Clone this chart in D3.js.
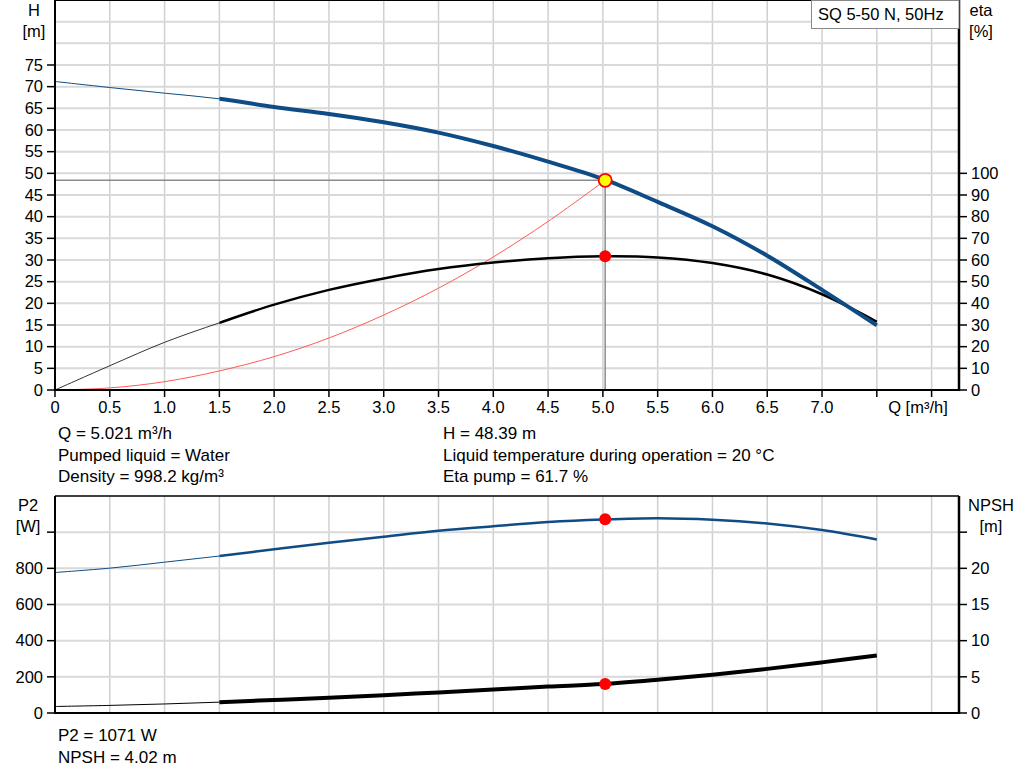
<!DOCTYPE html>
<html>
<head>
<meta charset="utf-8">
<script src="https://cdn.jsdelivr.net/npm/d3@7"></script>
<style>
  body { margin: 0; background: #fff; }
  svg { display: block; font-family: "Liberation Sans", Arial, sans-serif; }
</style>
</head>
<body>
<svg id="chart" width="1024" height="781"></svg>
<script>
// flow points (m3/h)
const flowQ = [0, 0.5, 1.0, 1.5, 2.0, 2.5, 3.0, 3.5, 4.0, 4.5, 5.0, 5.5, 6.0, 6.5, 7.0, 7.5];
const headH = [71.2, 69.8, 68.5, 67.2, 65.3, 63.7, 61.8, 59.4, 56.3, 52.7, 48.7, 43.4, 37.8, 31.0, 23.1, 14.9];
const etaPump = [0, 11.2, 22.0, 31.0, 39.4, 46.2, 51.5, 55.8, 58.8, 60.8, 61.7, 61.2, 58.6, 53.3, 44.2, 31.5];
const powerP2 = [777, 801, 834, 868, 905, 941, 975, 1008, 1033, 1056, 1070, 1077, 1069, 1048, 1012, 960];
const npshM = [0.9, 1.05, 1.25, 1.5, 1.8, 2.1, 2.45, 2.85, 3.25, 3.65, 4.0, 4.6, 5.3, 6.1, 7.0, 7.95];

// system curve (red) up to the duty point
const systemQ = [0, 0.5, 1.0, 1.5, 2.0, 2.5, 3.0, 3.5, 4.0, 4.5, 5.0, 5.021];
const systemH = [0, 0.48, 1.92, 4.4, 7.7, 12.0, 17.3, 23.5, 30.7, 38.9, 48.0, 48.39];

// duty point
const dutyQ = 5.021, dutyH = 48.39, dutyEta = 61.7, dutyP2 = 1071, dutyNpsh = 4.02;
const startThick = 3; // index where the bold part of each curve begins (Q = 1.5)

// ticks & labels
const xTicks = d3.range(0, 8.01, 0.5);
const xTickLabels = ["0", "0.5", "1.0", "1.5", "2.0", "2.5", "3.0", "3.5", "4.0", "4.5", "5.0", "5.5", "6.0", "6.5", "7.0", "", ""];
const hTicks = [0, 5, 10, 15, 20, 25, 30, 35, 40, 45, 50, 55, 60, 65, 70, 75];
const etaTicks = [0, 10, 20, 30, 40, 50, 60, 70, 80, 90, 100];
const p2Ticks = [0, 200, 400, 600, 800, 1000];
const p2Labels = ["0", "200", "400", "600", "800", ""];
const npshTicks = [0, 5, 10, 15, 20, 25];
const npshLabels = ["0", "5", "10", "15", "20", ""];
const infoLeft = ["Q = 5.021 m³/h", "Pumped liquid = Water", "Density = 998.2 kg/m³"];
const infoRight = ["H = 48.39 m", "Liquid temperature during operation = 20 °C", "Eta pump = 61.7 %"];
const infoBottom = ["P2 = 1071 W", "NPSH = 4.02 m"];
const title = "SQ 5-50 N, 50Hz";

const svg = d3.select("#chart");
const left = 55, right = 959;
const blue = "#0f4c85";
const gridColor = "#d9d9d9";

const x = d3.scaleLinear().domain([0, 8.25]).range([left, right]);
// top panel
const yH = d3.scaleLinear().domain([0, 90]).range([390, 0]);
const yEta = d3.scaleLinear().domain([0, 180]).range([390, 0]);
// bottom panel
const yP2 = d3.scaleLinear().domain([0, 1200]).range([713, 496]);
const yNpsh = d3.scaleLinear().domain([0, 30]).range([713, 496]);

function grid(yScale, yVals) {
  const g = svg.append("g");
  g.selectAll(".vg").data(xTicks.slice(1)).enter().append("line")
    .attr("x1", d => x(d)).attr("x2", d => x(d))
    .attr("y1", yScale.range()[0]).attr("y2", yScale.range()[1])
    .attr("stroke", "#d0d0d0").attr("stroke-width", 1.5);
  g.selectAll(".hg").data(yVals).enter().append("line")
    .attr("x1", left).attr("x2", right)
    .attr("y1", d => yScale(d)).attr("y2", d => yScale(d))
    .attr("stroke", gridColor).attr("stroke-width", 2);
}

grid(yH, d3.range(5, 90, 5));
grid(yP2, d3.range(200, 1200, 200));

const smooth = d3.line().curve(d3.curveCatmullRom.alpha(0.5));

// line helper: thin part then bold part
function curve(scaleY, xs, ys, color, thin, bold) {
  const pts = xs.map((q, i) => [x(q), scaleY(ys[i])]);
  const full = smooth(pts);
  // thin part up to Q=1.5, drawn with the full path clipped
  const id = "c" + Math.random().toString(36).slice(2);
  svg.append("clipPath").attr("id", id + "a").append("rect")
    .attr("x", 0).attr("y", 0).attr("width", x(xs[startThick])).attr("height", 781);
  svg.append("clipPath").attr("id", id + "b").append("rect")
    .attr("x", x(xs[startThick])).attr("y", 0).attr("width", 1024).attr("height", 781);
  svg.append("path").attr("d", full).attr("clip-path", `url(#${id}a)`)
    .attr("fill", "none").attr("stroke", color).attr("stroke-width", thin);
  svg.append("path").attr("d", full).attr("clip-path", `url(#${id}b)`)
    .attr("fill", "none").attr("stroke", color).attr("stroke-width", bold);
}

// duty point reference lines
svg.append("line")
  .attr("x1", left).attr("x2", x(dutyQ)).attr("y1", yH(dutyH)).attr("y2", yH(dutyH))
  .attr("stroke", "#8c8c8c").attr("stroke-width", 1.5);
svg.append("line")
  .attr("x1", x(dutyQ)).attr("x2", x(dutyQ)).attr("y1", yH(dutyH)).attr("y2", yH(0))
  .attr("stroke", "#8c8c8c").attr("stroke-width", 1.5);

// system curve
svg.append("path")
  .attr("d", smooth(systemQ.map((q, i) => [x(q), yH(systemH[i])])))
  .attr("fill", "none").attr("stroke", "#ff5a5a").attr("stroke-width", 1);

curve(yEta, flowQ, etaPump, "#000", 0.8, 2.5);
curve(yH, flowQ, headH, blue, 1, 4);
curve(yP2, flowQ, powerP2, blue, 1, 2.5);
curve(yNpsh, flowQ, npshM, "#000", 1, 4);

// frames / axes
function axisLine(x1, y1, x2, y2, w) {
  svg.append("line").attr("x1", x1).attr("y1", y1).attr("x2", x2).attr("y2", y2)
    .attr("stroke", "#000").attr("stroke-width", w);
}
axisLine(left, 0.5, right, 0.5, 1);
axisLine(left, 0, left, 391, 2);
axisLine(right, 0, right, 391, 2.5);
axisLine(left, 390, right, 390, 2);
axisLine(left, 496, right, 496, 1.5);
axisLine(left, 496, left, 714, 2);
axisLine(right, 496, right, 714, 2.5);
axisLine(left, 713, right, 713, 2);

function yAxis(scale, ticks, labels, side) {
  const g = svg.append("g").attr("font-size", 16.5).attr("fill", "#000");
  ticks.forEach((t, i) => {
    const yy = scale(t);
    if (side === "left") {
      axisLine(left - 8, yy, left, yy, 1.5);
      g.append("text").attr("x", left - 12).attr("y", yy).attr("dy", "0.35em")
        .attr("text-anchor", "end").text(labels ? labels[i] : t);
    } else {
      axisLine(right, yy, right + 8, yy, 1.5);
      g.append("text").attr("x", right + 12).attr("y", yy).attr("dy", "0.35em")
        .attr("text-anchor", "start").text(labels ? labels[i] : t);
    }
  });
}
yAxis(yH, hTicks, null, "left");
yAxis(yEta, etaTicks, null, "right");
yAxis(yP2, p2Ticks, p2Labels, "left");
yAxis(yNpsh, npshTicks, npshLabels, "right");

// x axis ticks (top panel)
xTicks.forEach((t, i) => {
  axisLine(x(t), 390, x(t), 397, 1.5);
  svg.append("text").attr("x", x(t)).attr("y", 413).attr("text-anchor", "middle")
    .attr("font-size", 16.5).text(xTickLabels[i]);
});
svg.append("text").attr("x", 918).attr("y", 413).attr("text-anchor", "middle")
  .attr("font-size", 16.5).text("Q [m³/h]");

// axis titles
function unitLabel(cx, y1, txt1, txt2) {
  svg.append("text").attr("x", cx).attr("y", y1).attr("text-anchor", "middle")
    .attr("font-size", 16.5).text(txt1);
  svg.append("text").attr("x", cx).attr("y", y1 + 21).attr("text-anchor", "middle")
    .attr("font-size", 16.5).text(txt2);
}
unitLabel(34, 16, "H", "[m]");
unitLabel(981, 16, "eta", "[%]");
unitLabel(28, 511, "P2", "[W]");
unitLabel(991, 511, "NPSH", "[m]");

// markers
svg.append("circle").attr("cx", x(dutyQ)).attr("cy", yEta(dutyEta)).attr("r", 6).attr("fill", "#ff0000");
svg.append("circle").attr("cx", x(dutyQ)).attr("cy", yP2(dutyP2)).attr("r", 6).attr("fill", "#ff0000");
svg.append("circle").attr("cx", x(dutyQ)).attr("cy", yNpsh(dutyNpsh)).attr("r", 6).attr("fill", "#ff0000");
svg.append("circle").attr("cx", x(dutyQ)).attr("cy", yH(dutyH)).attr("r", 6.5)
  .attr("fill", "#ffff00").attr("stroke", "#ff0000").attr("stroke-width", 1.8);

// title box
svg.append("rect").attr("x", 811.5).attr("y", 0.5).attr("width", right - 811.5).attr("height", 28)
  .attr("fill", "#fff").attr("stroke", "#888");
svg.append("text").attr("x", 818).attr("y", 20).attr("font-size", 16.5).text(title);

// info texts
function info(lines, x0, y0) {
  lines.forEach((s, i) => {
    svg.append("text").attr("x", x0).attr("y", y0 + i * 21.5).attr("font-size", 17).text(s);
  });
}
info(infoLeft, 58, 439);
info(infoRight, 443, 439);
info(infoBottom, 58, 741);
</script>
</body>
</html>
